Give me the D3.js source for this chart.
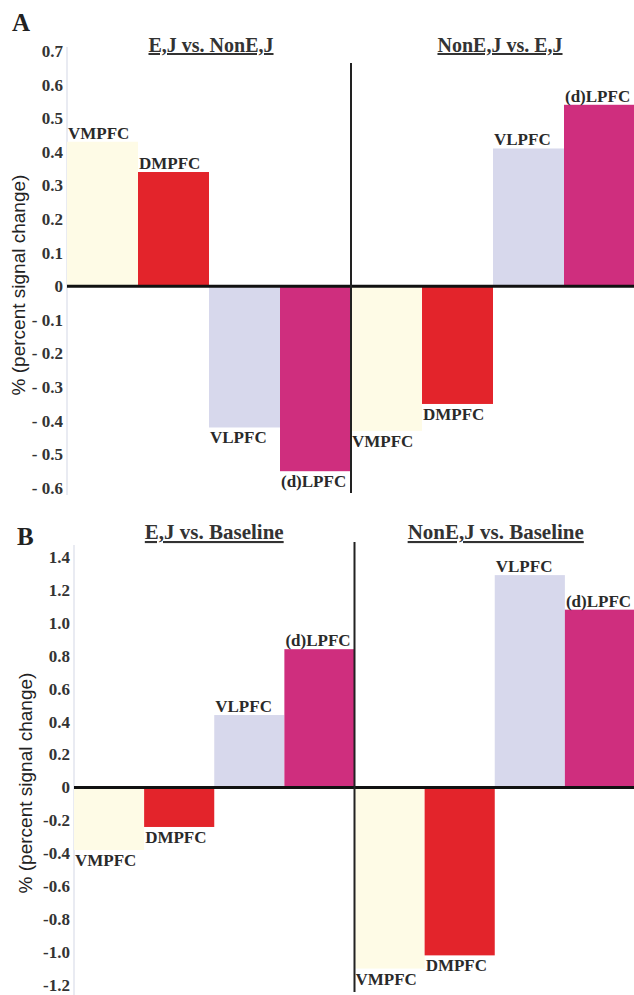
<!DOCTYPE html>
<html>
<head>
<meta charset="utf-8">
<script src="https://d3js.org/d3.v7.min.js"></script>
<style>
    body { margin: 0; background: #fff; }
    svg { display: block; }
</style>
</head>
<body>
<script>
// regions, same order in every contrast
const regions = ["VMPFC", "DMPFC", "VLPFC", "(d)LPFC"]
const regionColors = ["#fefbe6", "#e3242b", "#d7d8ec", "#cf2e7e"]

// panel A
const contrastsA = ["E,J vs. NonE,J", "NonE,J vs. E,J"]
const ejVsNonEj = [0.43, 0.34, -0.42, -0.55]
const nonEjVsEj = [-0.43, -0.35, 0.41, 0.54]
const tickValuesA = [0.7, 0.6, 0.5, 0.4, 0.3, 0.2, 0.1, 0, -0.1, -0.2, -0.3, -0.4, -0.5, -0.6]
const tickLabelsA = ["0.7", "0.6", "0.5", "0.4", "0.3", "0.2", "0.1", "0",
    "- 0.1", "- 0.2", "- 0.3", "- 0.4", "- 0.5", "- 0.6"]

// panel B
const contrastsB = ["E,J vs. Baseline", "NonE,J vs. Baseline"]
const ejVsBaseline = [-0.38, -0.24, 0.44, 0.84]
const nonEjVsBaseline = [-1.10, -1.02, 1.29, 1.08]
const tickValuesB = [1.4, 1.2, 1.0, 0.8, 0.6, 0.4, 0.2, 0, -0.2, -0.4, -0.6, -0.8, -1.0, -1.2]
const tickLabelsB = ["1.4", "1.2", "1.0", "0.8", "0.6", "0.4", "0.2", "0",
    "-0.2", "-0.4", "-0.6", "-0.8", "-1.0", "-1.2"]

const yTitle = "% (percent signal change)"

const width = 634
const height = 995
const serif = "'Liberation Serif', 'Times New Roman', serif"

const svg = d3.select("body").append("svg")
    .attr("width", width)
    .attr("height", height)

function drawPanel(cfg) {
    const g = svg.append("g")

    const keys = []
    cfg.series.forEach((vals, i) => regions.forEach((r) => keys.push(i + "|" + r)))

    const x = d3.scaleBand().domain(keys).range(cfg.xRange).padding(0)
    const y = d3.scaleLinear().domain(cfg.yDomain).range(cfg.yRange)
    const bw = x.bandwidth()

    // faint left axis line
    g.append("line")
        .attr("x1", cfg.xRange[0]).attr("x2", cfg.xRange[0])
        .attr("y1", cfg.axisExtent[0]).attr("y2", cfg.axisExtent[1])
        .attr("stroke", "#e2e4ee")
        .attr("stroke-width", 1.5)

    const axis = g.append("g")
        .attr("transform", `translate(${cfg.xRange[0]},0)`)
        .call(d3.axisLeft(y)
            .tickValues(cfg.ticks)
            .tickFormat((d, i) => cfg.tickLabels[i])
            .tickSize(0)
            .tickPadding(4))
    axis.select(".domain").remove()
    axis.attr("font-family", null).attr("font-size", null)
    axis.selectAll("text")
        .style("font-family", serif)
        .style("font-weight", "bold")
        .style("font-size", "17px")
        .attr("fill", "#333")

    const bars = []
    cfg.series.forEach((vals, i) => vals.forEach((v, j) => {
        bars.push({key: i + "|" + regions[j], value: v, color: regionColors[j], label: regions[j]})
    }))

    g.append("g").selectAll("rect")
        .data(bars)
        .join("rect")
        .attr("x", (d) => x(d.key))
        .attr("width", bw)
        .attr("y", (d) => y(Math.max(0, d.value)))
        .attr("height", (d) => Math.abs(y(d.value) - y(0)))
        .attr("fill", (d) => d.color)

    g.append("g").selectAll("text")
        .data(bars)
        .join("text")
        .attr("x", (d) => x(d.key) + 1)
        .attr("y", (d) => d.value >= 0 ? y(d.value) - 3 : y(d.value) + 16)
        .attr("font-family", serif)
        .attr("font-weight", "bold")
        .attr("font-size", 17)
        .attr("fill", "#2a2a2a")
        .text((d) => d.label)

    // zero line
    g.append("line")
        .attr("x1", cfg.xRange[0]).attr("x2", width)
        .attr("y1", y(0)).attr("y2", y(0))
        .attr("stroke", "#111")
        .attr("stroke-width", 3)

    // divider between the two contrasts
    const dx = x("1|" + regions[0])
    g.append("line")
        .attr("x1", dx).attr("x2", dx)
        .attr("y1", cfg.dividerExtent[0]).attr("y2", cfg.dividerExtent[1])
        .attr("stroke", "#222")
        .attr("stroke-width", 2)

    // contrast titles
    g.append("g").selectAll("text")
        .data(cfg.contrasts)
        .join("text")
        .attr("x", (d, i) => (x(i + "|" + regions[0]) + x(i + "|" + regions[3]) + bw) / 2 + cfg.titleShift[i])
        .attr("y", cfg.titleY)
        .attr("text-anchor", "middle")
        .attr("font-family", serif)
        .attr("font-weight", "bold")
        .attr("font-size", cfg.titleSize)
        .attr("text-decoration", "underline")
        .attr("fill", "#333")
        .text((d) => d)

    // panel letter
    g.append("text")
        .attr("x", cfg.letterPos[0])
        .attr("y", cfg.letterPos[1])
        .attr("font-family", serif)
        .attr("font-weight", "bold")
        .attr("font-size", 25)
        .attr("fill", "#222")
        .text(cfg.letter)

    // y axis title
    g.append("text")
        .attr("transform", `translate(${cfg.yTitlePos[0]},${cfg.yTitlePos[1]}) rotate(-90)`)
        .attr("text-anchor", "middle")
        .attr("font-family", "'Liberation Sans', Arial, sans-serif")
        .attr("font-size", 19)
        .attr("fill", "#222")
        .text(yTitle)
}

drawPanel({
    letter: "A",
    letterPos: [12, 31],
    contrasts: contrastsA,
    series: [ejVsNonEj, nonEjVsEj],
    ticks: tickValuesA,
    tickLabels: tickLabelsA,
    xRange: [67, 635],
    yDomain: [-0.6, 0.7],
    yRange: [488, 51],
    axisExtent: [47, 495],
    dividerExtent: [63, 493],
    titleY: 52,
    titleSize: 20,
    titleShift: [2, 7],
    yTitlePos: [25, 285],
})

drawPanel({
    letter: "B",
    letterPos: [17, 545],
    contrasts: contrastsB,
    series: [ejVsBaseline, nonEjVsBaseline],
    ticks: tickValuesB,
    tickLabels: tickLabelsB,
    xRange: [74, 635],
    yDomain: [-1.2, 1.4],
    yRange: [985, 557],
    axisExtent: [545, 995],
    dividerExtent: [542, 992],
    titleY: 539,
    titleSize: 21,
    titleShift: [0, 1],
    yTitlePos: [32, 783],
})
</script>
</body>
</html>
